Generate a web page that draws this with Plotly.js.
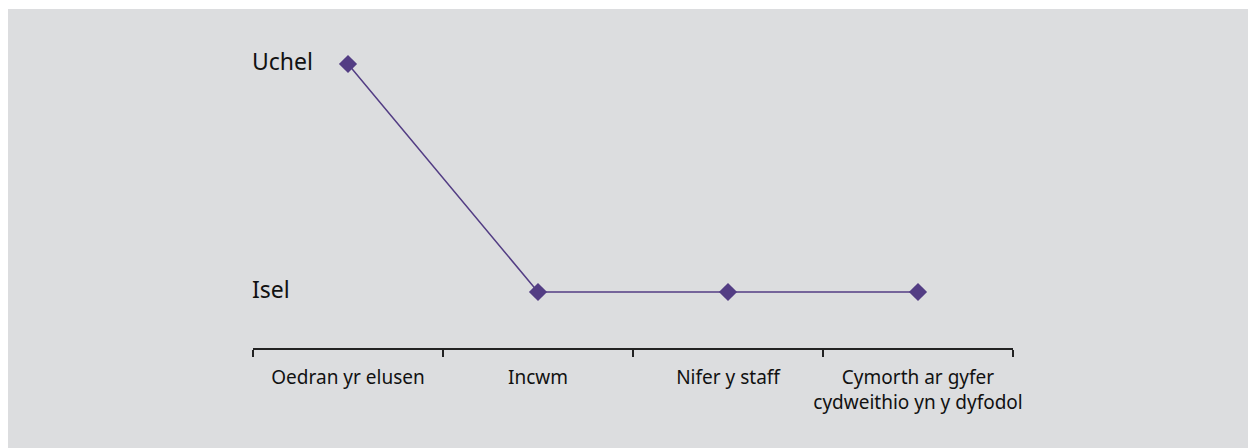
<!DOCTYPE html>
<html>
<head>
<meta charset="utf-8">
<script src="https://cdn.plot.ly/plotly-3.0.1.min.js"></script>
<style>html,body{margin:0;padding:0;background:#fff;}#chart{width:1248px;height:448px;}</style>
</head>
<body>
<div id="chart"></div>
<script>
const categories = ["Oedran yr elusen", "Incwm", "Nifer y staff", "Cymorth ar gyfer<br>cydweithio yn y dyfodol"];
const levels = [1, 0, 0, 0];
const levelValues = [0, 1];
const levelLabels = ["Isel", "Uchel"];

const W = 1248, H = 448;
const m = {l: 253, r: 235, t: 30, b: 100};
const pw = W - m.l - m.r, ph = H - m.t - m.b;
const purple = "#533d84";
const font = "'Noto Sans', 'Open Sans', sans-serif";

const trace = {
  x: categories,
  y: levels,
  type: "scatter",
  mode: "lines+markers",
  line: {color: purple, width: 1.5},
  marker: {symbol: "diamond", size: 14, color: purple},
  hoverinfo: "none"
};

const annotations = levelLabels.map((t, i) => ({
  xref: "paper", yref: "y", x: 0, y: levelValues[i], xshift: -3, yshift: 3,
  xanchor: "left", yanchor: "middle", text: t, showarrow: false,
  font: {family: font, size: 23, color: "#111"}
}));

const layout = {
  width: W, height: H,
  margin: m,
  paper_bgcolor: "#ffffff",
  plot_bgcolor: "rgba(0,0,0,0)",
  showlegend: false,
  xaxis: {
    type: "category",
    range: [-0.5, categories.length - 0.5],
    tickson: "boundaries",
    tickangle: 0,
    ticks: "outside", ticklen: 7, tickwidth: 1.5, tickcolor: "#222",
    ticklabelstandoff: 12,
    showline: true, linecolor: "#222", linewidth: 1.5,
    showgrid: false, zeroline: false,
    tickfont: {family: font, size: 19, color: "#111"},
    fixedrange: true
  },
  yaxis: {
    range: [-(348 - 292) / 228, 1 + (64 - 30) / 228],
    visible: false, fixedrange: true
  },
  shapes: [{
    type: "rect", xref: "paper", yref: "paper", layer: "below",
    x0: (8 - m.l) / pw, x1: (W - m.l) / pw,
    y0: -m.b / ph, y1: ((H - m.b) - 9) / ph,
    fillcolor: "#dcdddf", line: {width: 0}
  }],
  annotations: annotations
};

Plotly.newPlot("chart", [trace], layout, {staticPlot: true, displayModeBar: false});
</script>
</body>
</html>
